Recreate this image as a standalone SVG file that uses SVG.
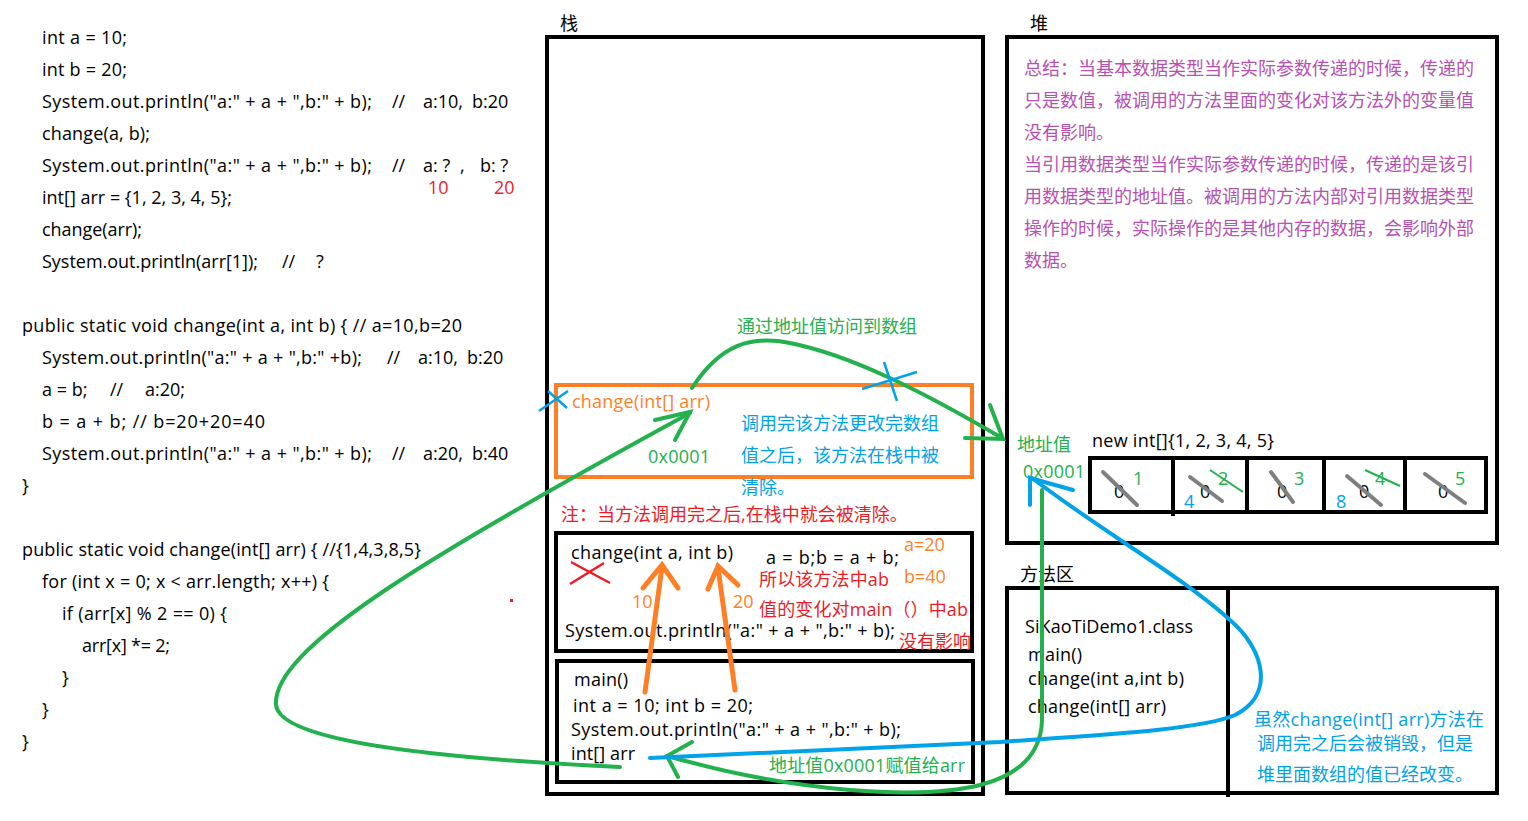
<svg xmlns="http://www.w3.org/2000/svg" width="1528" height="821" viewBox="0 0 1528 821">
<style>
text{font-family:"Open Sans","Noto Sans CJK SC",sans-serif;font-size:18px;fill:#000}
.red{fill:#ed1c24}.org{fill:#ff7f27}.grn{fill:#22b14c}.blu{fill:#00a2e8}.pur{fill:#b650b3}
.box{fill:none;stroke:#000;stroke-width:4}
.gs{fill:none;stroke:#22b14c;stroke-width:4;stroke-linecap:round}
.bs{fill:none;stroke:#00a2e8;stroke-width:4;stroke-linecap:round}
.os{fill:none;stroke:#ff7f27;stroke-width:5;stroke-linecap:round}
.gray{stroke:#7f7f7f;stroke-width:4;stroke-linecap:round}
</style>
<rect width="1528" height="821" fill="#fff"/>
<g id="code">
<text x="42" y="44" textLength="85">int a = 10;</text>
<text x="42" y="76" textLength="85">int b = 20;</text>
<text x="42" y="108" textLength="330">System.out.println("a:" + a + ",b:" + b);</text><text x="392" y="108">//</text><text x="423" y="108">a:10,</text><text x="472" y="108">b:20</text>
<text x="42" y="140" textLength="108">change(a, b);</text>
<text x="42" y="172" textLength="330">System.out.println("a:" + a + ",b:" + b);</text><text x="392" y="172">//</text><text x="423" y="172">a: ?</text><text x="460" y="172">,</text><text x="480" y="172">b: ?</text>
<text x="428" y="194" class="red">10</text><text x="494" y="194" class="red">20</text>
<text x="42" y="204" textLength="190">int[] arr = {1, 2, 3, 4, 5};</text>
<text x="42" y="236" textLength="100">change(arr);</text>
<text x="42" y="268" textLength="216">System.out.println(arr[1]);</text><text x="282" y="268">//</text><text x="316" y="268">?</text>
<text x="22" y="332" textLength="440">public static void change(int a, int b) { // a=10,b=20</text>
<text x="42" y="364" textLength="320">System.out.println("a:" + a + ",b:" +b);</text><text x="387" y="364">//</text><text x="418" y="364">a:10,</text><text x="467" y="364">b:20</text>
<text x="42" y="396">a = b;</text><text x="110" y="396">//</text><text x="145" y="396">a:20;</text>
<text x="42" y="428" textLength="223">b = a + b; // b=20+20=40</text>
<text x="42" y="460" textLength="330">System.out.println("a:" + a + ",b:" + b);</text><text x="392" y="460">//</text><text x="423" y="460">a:20,</text><text x="472" y="460">b:40</text>
<text x="22" y="492">}</text>
<text x="22" y="556" textLength="399">public static void change(int[] arr) { //{1,4,3,8,5}</text>
<text x="42" y="588" textLength="287">for (int x = 0; x &lt; arr.length; x++) {</text>
<text x="62" y="620" textLength="165">if (arr[x] % 2 == 0) {</text>
<text x="82" y="652" textLength="88">arr[x] *= 2;</text>
<text x="62" y="684">}</text>
<text x="42" y="716">}</text>
<text x="22" y="748">}</text>
<rect x="510" y="599" width="3" height="3" fill="#ed1c24"/>
</g>
<g id="stack">
<text x="560" y="30">栈</text>
<rect class="box" x="547" y="37" width="436" height="757"/>
</g>
<g id="frame-change-arr">
<rect x="556" y="385" width="416" height="92" fill="none" stroke="#ff7f27" stroke-width="4"/>
<text x="572" y="408" class="org" textLength="138">change(int[] arr)</text>
<text x="648" y="463" class="grn" textLength="62">0x0001</text>
<text x="741" y="430" class="blu">调用完该方法更改完数组</text>
<text x="741" y="462" class="blu">值之后，该方法在栈中被</text>
<text x="741" y="494" class="blu">清除。</text>
<text x="561" y="521" class="red">注：当方法调用完之后,在栈中就会被清除。</text>
</g>
<g id="frame-change-ab">
<rect class="box" x="556" y="533" width="416" height="118"/>
<text x="571" y="559" textLength="162">change(int a, int b)</text>
<text x="766" y="564" textLength="133">a = b;b = a + b;</text>
<text x="904" y="551" class="org">a=20</text>
<text x="904" y="583" class="org">b=40</text>
<text x="759" y="586" class="red" textLength="130">所以该方法中ab</text>
<text x="759" y="616" class="red" textLength="209">值的变化对main（）中ab</text>
<text x="899" y="648" class="red">没有影响</text>
<text x="565" y="637" textLength="330">System.out.println("a:" + a + ",b:" + b);</text>
<text x="632" y="608" class="org">10</text>
<text x="733" y="608" class="org">20</text>
</g>
<g id="frame-main">
<rect class="box" x="557" y="661" width="416" height="121"/>
<text x="574" y="686" textLength="54">main()</text>
<text x="573" y="712" textLength="180">int a = 10; int b = 20;</text>
<text x="571" y="736" textLength="330">System.out.println("a:" + a + ",b:" + b);</text>
<text x="571" y="760" textLength="64">int[] arr</text>
<text x="769" y="772" class="grn" textLength="196">地址值0x0001赋值给arr</text>
</g>
<g id="heap">
<text x="1030" y="30">堆</text>
<rect class="box" x="1007" y="37" width="490" height="506"/>
<text x="1024" y="75" class="pur">总结：当基本数据类型当作实际参数传递的时候，传递的</text>
<text x="1024" y="107" class="pur">只是数值，被调用的方法里面的变化对该方法外的变量值</text>
<text x="1024" y="139" class="pur">没有影响。</text>
<text x="1024" y="171" class="pur">当引用数据类型当作实际参数传递的时候，传递的是该引</text>
<text x="1024" y="203" class="pur">用数据类型的地址值。被调用的方法内部对引用数据类型</text>
<text x="1024" y="235" class="pur">操作的时候，实际操作的是其他内存的数据，会影响外部</text>
<text x="1024" y="267" class="pur">数据。</text>
<text x="1017" y="451" class="grn">地址值</text>
<text x="1023" y="478" class="grn" textLength="62">0x0001</text>
<text x="1092" y="447" textLength="182">new  int[]{1, 2, 3, 4, 5}</text>
</g>
<g id="array">
<rect class="box" x="1090" y="458" width="396" height="54"/>
<line x1="1173" y1="456" x2="1173" y2="516" stroke="#000" stroke-width="4"/>
<line x1="1247" y1="456" x2="1247" y2="514" stroke="#000" stroke-width="4"/>
<line x1="1324" y1="456" x2="1324" y2="514" stroke="#000" stroke-width="4"/>
<line x1="1405" y1="456" x2="1405" y2="514" stroke="#000" stroke-width="4"/>
<text x="1114" y="498">0</text><text x="1200" y="498">0</text><text x="1277" y="498">0</text><text x="1359" y="498">0</text><text x="1438" y="498">0</text>
<line class="gray" x1="1103" y1="472" x2="1137" y2="505"/>
<line class="gray" x1="1190" y1="477" x2="1222" y2="501"/>
<line class="gray" x1="1271" y1="472" x2="1293" y2="502"/>
<line class="gray" x1="1347" y1="476" x2="1381" y2="505"/>
<line class="gray" x1="1425" y1="474" x2="1465" y2="503"/>
<text x="1133" y="485" class="grn">1</text><text x="1218" y="485" class="grn">2</text><text x="1294" y="485" class="grn">3</text><text x="1375" y="485" class="grn">4</text><text x="1455" y="485" class="grn">5</text>
<line x1="1210" y1="470" x2="1243" y2="492" stroke="#22b14c" stroke-width="2"/>
<line x1="1365" y1="470" x2="1400" y2="486" stroke="#22b14c" stroke-width="2"/>
<text x="1184" y="508" class="blu">4</text><text x="1336" y="508" class="blu">8</text>
</g>
<g id="method-area">
<text x="1020" y="581">方法区</text>
<rect class="box" x="1007" y="588" width="490" height="205"/>
<line x1="1228" y1="588" x2="1228" y2="797" stroke="#000" stroke-width="4"/>
<text x="1025" y="633" textLength="168">SiKaoTiDemo1.class</text>
<text x="1028" y="661" textLength="54">main()</text>
<text x="1028" y="685" textLength="156">change(int a,int b)</text>
<text x="1028" y="713" textLength="138">change(int[] arr)</text>
<text x="1254" y="726" class="blu" textLength="230">虽然change(int[] arr)方法在</text>
<text x="1257" y="750" class="blu">调用完之后会被销毁，但是</text>
<text x="1257" y="781" class="blu">堆里面数组的值已经改变。</text>
</g>
<g id="connectors">
<path class="gs" d="M620 767 C 470 760, 280 745, 276 705 C 272 650, 420 560, 690 413"/>
<path class="gs" d="M655 420 L690 412 L675 440"/>
<path class="gs" d="M692 388 C 720 345, 750 335, 790 343 C 850 355, 920 390, 1002 438"/>
<path class="gs" d="M990 405 L1003 439 L965 438"/>
<text x="737" y="333" class="grn">通过地址值访问到数组</text>
<path class="gs" d="M1042 490 L1042 720 C 1040 790, 950 798, 850 790 C 760 782, 700 765, 667 756"/>
<path class="gs" d="M692 742 L667 756 L678 777"/>
<path class="bs" d="M650 758 L1000 742 C 1100 735, 1200 730, 1235 715 C 1275 695, 1265 650, 1230 620 C 1180 575, 1100 530, 1032 478"/>
<path class="bs" d="M1030 505 L1030 478 L1073 490"/>
<path class="os" d="M645 692 L662 567"/>
<path class="os" d="M643 588 L662 565 L678 588"/>
<path class="os" d="M735 690 L718 568"/>
<path class="os" d="M708 589 L718 566 L738 585"/>
<path d="M571 562 L610 583 M570 584 L604 563" stroke="#ed1c24" stroke-width="2.5" fill="none"/>
<path d="M539 411 L568 391 M548 391 L567 408" stroke="#00a2e8" stroke-width="2.5" fill="none"/>
<path d="M862 389 L917 372 M884 362 L897 401" stroke="#00a2e8" stroke-width="2.5" fill="none"/>
</g>
</svg>
